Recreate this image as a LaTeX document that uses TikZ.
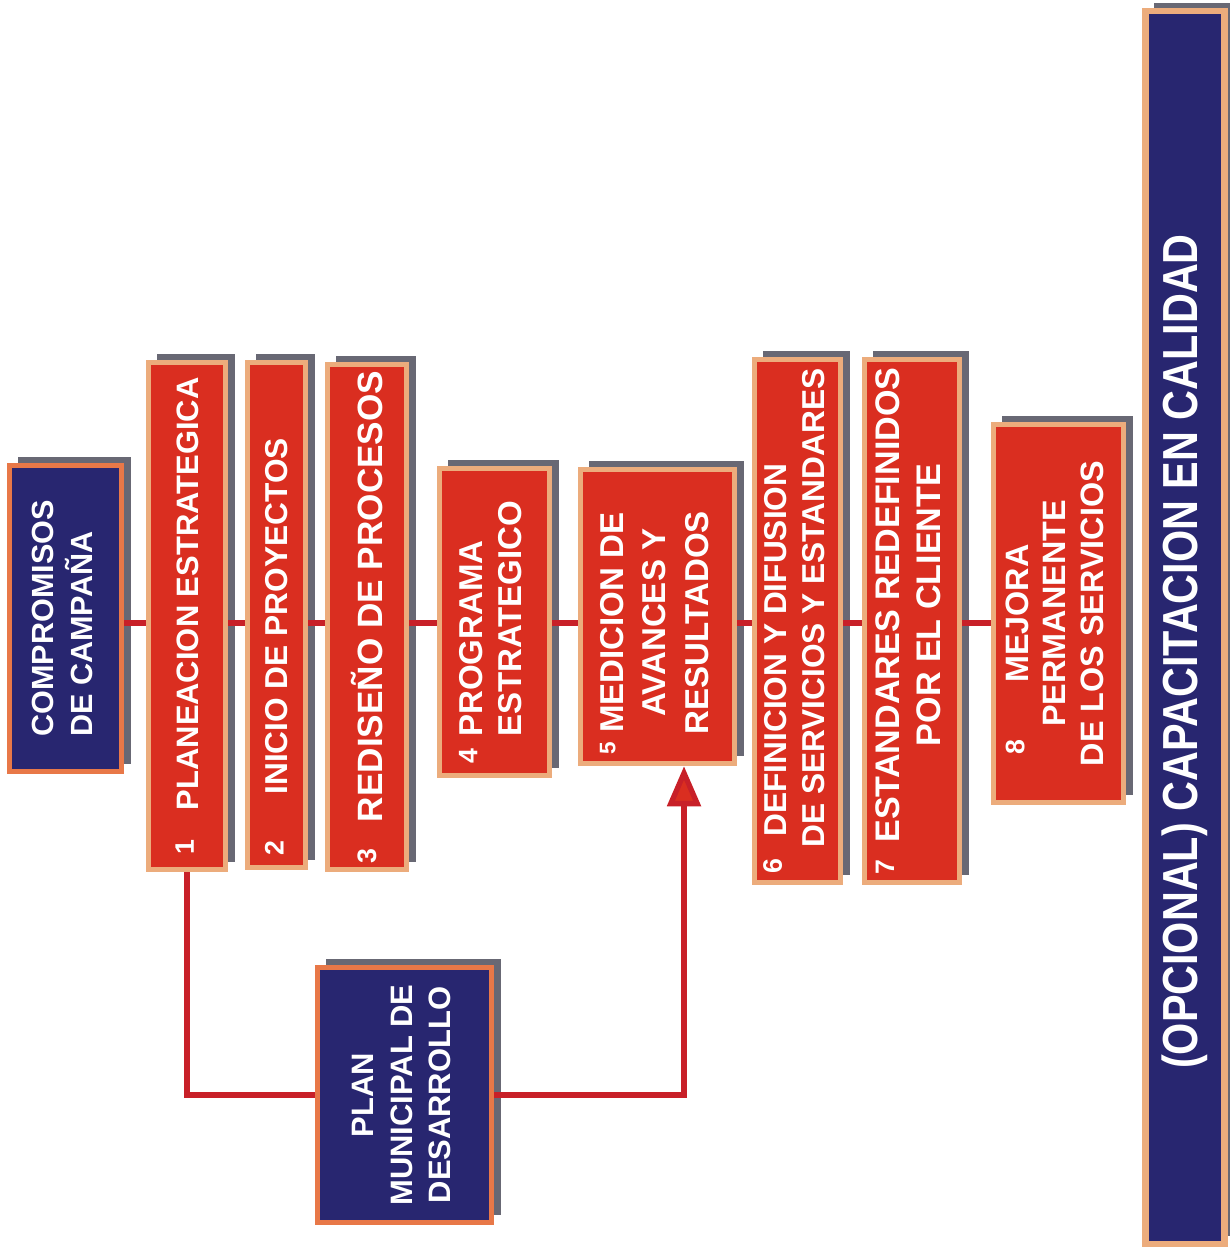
\documentclass[tikz,border=0pt]{standalone}
\usepackage{fontspec}
\setmainfont{Liberation Sans}
\usepackage{graphicx}
\usetikzlibrary{shadows,arrows.meta}

\definecolor{stepRed}{RGB}{218,46,32}
\definecolor{stepEdge}{RGB}{236,172,124}
\definecolor{planNavy}{RGB}{40,38,112}
\definecolor{planEdge}{RGB}{232,120,72}
\definecolor{shadowGray}{RGB}{104,104,116}
\definecolor{linkRed}{RGB}{200,32,40}

% small number in front of a step, top aligned with the capitals
\newcommand{\stepno}[2][1.2pt]{\raisebox{#1}{\fontsize{7.6}{8}\selectfont #2}}
\newcommand{\boxfont}[2]{\bfseries\fontsize{#1}{#2}\selectfont}

\begin{document}
\begin{tikzpicture}[x=0.01cm, y=-0.01cm,
  shadowed/.style={drop shadow={shadow xshift=0.09cm, shadow yshift=0.08cm, fill=shadowGray, opacity=1}},
  stepbox/.style={shadowed, rectangle, inner sep=0pt, fill=stepRed, draw=stepEdge, line width=1.5pt, text=white},
  planbox/.style={shadowed, rectangle, inner sep=0pt, fill=planNavy, draw=planEdge, line width=1.5pt, text=white},
  trainbox/.style={shadowed, rectangle, inner sep=0pt, fill=planNavy, draw=stepEdge, line width=1.8pt, text=white},
  link/.style={draw=linkRed, line width=1.5pt}]

% Frame of the page (pixels of the scan, y going down)
\path[use as bounding box, fill=white] (0,0) rectangle (1229,1251);

% General parameters
\def\spineY{623}     % Height of the chain of steps
\coordinate (spine) at (0,\spineY);

% Starting point
\node (campaign) at (65.5,618.5) [planbox, minimum width=1.12cm, minimum height=3.06cm, font=\boxfont{8.7}{10.6}]
  {\rotatebox{90}{\begin{tabular}{@{}l@{}}COMPROMISOS\\DE CAMPAÑA\end{tabular}}};

% Steps 1 to 8
\node (step-1) at (187,616) [stepbox, minimum width=0.77cm, minimum height=5.07cm, font=\boxfont{8.8}{10.6}]
  {\rotatebox{90}{\stepno{1}\hspace{0.95em}PLANEACION ESTRATEGICA}};
\node (step-2) at (276.5,615) [stepbox, minimum width=0.58cm, minimum height=5.05cm, font=\boxfont{9}{10.8}]
  {\rotatebox{90}{\makebox[4.8cm]{\stepno{2}\hfill INICIO DE PROYECTOS\hfill\phantom{2}}}};
\node (step-3) at (367,617) [stepbox, minimum width=0.79cm, minimum height=5.05cm, font=\boxfont{10}{12}]
  {\rotatebox{90}{\stepno[1.8pt]{3}\hspace{0.75em}REDISEÑO DE PROCESOS}};
\node (step-4) at (494.5,622) [stepbox, minimum width=1.10cm, minimum height=3.07cm, font=\boxfont{9.4}{11}]
  {\rotatebox{90}{\begin{tabular}{@{}l@{\hspace{.35em}}l@{}}\stepno[1.6pt]{4}&PROGRAMA\\&ESTRATEGICO\end{tabular}\hspace{0.6em}}};
\node (step-5) at (657.5,616.5) [stepbox, minimum width=1.54cm, minimum height=2.94cm, font=\boxfont{9.4}{12}]
  {\rotatebox{90}{\begin{tabular}{@{}l@{\hspace{.25em}}c@{}}\raisebox{2.4pt}{\fontsize{6.4}{7}\selectfont 5}&MEDICION DE\\&AVANCES Y\\&RESULTADOS\end{tabular}\hspace{1em}}};
\node (step-6) at (797.5,621) [stepbox, minimum width=0.86cm, minimum height=5.23cm, font=\boxfont{9}{10.8}]
  {\rotatebox{90}{\begin{tabular}{@{}l@{\hspace{.35em}}l@{}}\stepno{6}&\hspace{.35em}DEFINICION Y DIFUSION\\&DE SERVICIOS Y ESTANDARES\end{tabular}}};
\node (step-7) at (912,621) [stepbox, minimum width=0.95cm, minimum height=5.23cm, font=\boxfont{9.7}{11.5}]
  {\rotatebox{90}{\begin{tabular}{@{}l@{\hspace{.5em}}c@{}}\stepno[1.6pt]{7}&ESTANDARES REDEFINIDOS\\&POR EL CLIENTE\end{tabular}}};
\node (step-8) at (1058.5,613.5) [stepbox, minimum width=1.30cm, minimum height=3.78cm, font=\boxfont{9.2}{10.6}]
  {\rotatebox{90}{\begin{tabular}{@{}c@{}}\llap{\stepno{8}\hspace{1.75em}}MEJORA\\PERMANENTE\\DE LOS SERVICIOS\end{tabular}}};

% Plan and training bar
\node (plan) at (404.5,1095) [planbox, minimum width=1.74cm, minimum height=2.55cm, font=\boxfont{8.8}{11}]
  {\rotatebox{90}{\begin{tabular}{@{}c@{}}PLAN\\MUNICIPAL DE\\DESARROLLO\end{tabular}}};
\node (training) at (1185,627.5) [trainbox, minimum width=0.79cm, minimum height=12.32cm, font=\boxfont{14}{16}]
  {\rotatebox{90}{\scalebox{0.84}[1]{(OPCIONAL) CAPACITACION EN CALIDAD}\hspace{0.48cm}}};

% Chain between the steps
\foreach \a/\b in {campaign/step-1, step-1/step-2, step-2/step-3, step-3/step-4,
                   step-4/step-5, step-5/step-6, step-6/step-7, step-7/step-8} {
    \draw[link] (\a.east |- spine) -- (\b.west |- spine);
}

% Loop through the plan
\draw[link] (step-1.south) |- (plan.west);
\draw[link, -{Triangle[width=0.33cm, length=0.4cm, fill=stepRed]}] (plan.east) -| ([xshift=0.265cm]step-5.south);

\end{tikzpicture}
\end{document}
